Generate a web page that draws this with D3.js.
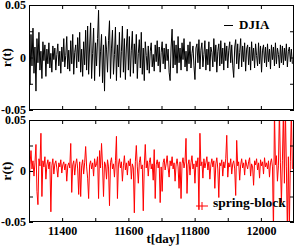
<!DOCTYPE html>
<html>
<head>
<meta charset="utf-8">
<script src="https://cdn.jsdelivr.net/npm/d3@7/dist/d3.min.js"></script>
<style>
  body { margin: 0; background: #fff; }
  svg text { font-family: "Liberation Serif", "Times New Roman", serif; font-weight: bold; }
</style>
</head>
<body>
<script>
// sampling of the two return series (one value every 3 days)
var startDay = 11300;
var dayStep = 3;

// r(t) of the DJIA, in units of 0.001
var djiaValues = [
  5, -26, 22, -8, 28, -15, 10, -32, 18, -5, 24, -12, 6, -20, 15, -3, 12, -18, 8, -6,
  14, -10, 4, -14, 11, -2, 9, -12, 3, 13, -8, 6, -15, 10, -4, 18, -9, 2, 20, -11,
  7, -13, 16, -6, 22, -16, 5, 12, -10, 19, -4, 24, -14, 8, -18, 15, -7, 26, -12, 30,
  -16, 10, 33, -20, 4, 28, -22, 14, -8, 18, 45, -18, 6, 22, -24, 12, -32, 20, 8, -14,
  16, 35, -20, 9, 26, -16, 3, 29, -22, 12, -9, 24, -19, 6, 30, -14, 18, -21, 10, 27,
  -12, 20, -18, 7, 25, -15, 13, -6, 22, -20, 4, 17, -10, 24, -16, 9, -22, 15, 2, -12,
  11, -15, 6, 14, -9, 3, -13, 12, -4, 16, -8, 10, -14, 5, 15, -6, 9, -11, 13, -3,
  8, -14, -22, 10, 27, -10, 16, -7, 12, -15, 20, -5, 9, -12, 14, -2, 18, -9, 6, -13,
  12, -6, 15, -10, 4, 11, -8, -21, 9, 13, -5, 17, -11, 7, 14, -9, 3, 16, -12, 8,
  -7, 15, -13, 10, 5, -9, 18, -4, 12, -14, 6, 13, -8, 16, -6, 9, -12, 14, -3, 11,
  -10, 7, 15, -5, 12, -8, -19, 10, 17, -6, 13, -11, 5, 18, -9, 11, -4, 14, -13, 8,
  12, -7, 10, -12, 15, -3, 9, -10, 13, 2, -8, 14, -6, 11, -14, 7, 12, -5, 10, -9,
  13, -4, 8, -11, 12, -2, 10, -8, 14, -6, 9, 3, -10, 12, -5, 11, -7, 9, -3, 13, -9, 6, 10, -4, 8, -6
];

// r(t) of the spring-block model, in units of 0.001
var springValues = [
  -32, 6, 20, 2, 10, -5, 8, 26, -20, -33, 12, 5, 37, -25, 10, 4, 14, -8, 6, 11,
  2, 9, -40, 5, 12, -3, 7, 10, 3, -6, 8, 4, 11, -2, 6, 9, 1, 7, -10, 5,
  8, 3, 27, -21, 6, 10, -4, 7, 12, 2, -23, 9, -25, 5, 11, -3, 8, 24, 4, -7,
  -27, 6, 10, 2, 8, -5, 12, 4, 7, 14, -27, 20, 3, 27, 5, -25, 9, 6, -8, 11,
  4, -34, 8, 13, 2, 7, -6, 10, 34, -27, 6, 12, 3, 9, -10, 5, 15, 1, 8, -4,
  10, 5, 12, -8, 7, 3, -41, 9, 25, 4, -12, 8, 14, 2, 6, -39, 5, 26, 3, 10,
  -5, 8, 13, 2, 7, -9, 21, -27, 6, 11, 3, 9, -31, 4, -20, 8, 12, 1, 7, 15,
  3, -6, 10, 5, 14, 2, 8, -10, 6, 12, 4, -17, 9, -27, 7, 13, 3, 9, 32, -22,
  6, 11, -4, 8, 15, 2, 7, -12, 10, 4, 13, -38, 37, 5, 9, -7, 12, 3, 8, 14,
  1, 9, -8, 6, 12, 4, 10, -17, 7, 13, 2, -26, 8, 5, 11, -5, 9, 3, 12, 35,
  -6, 8, 4, 12, -3, 7, 10, 2, -24, 30, 5, 9, -9, 6, 12, 3, 8, -4, 11, 6,
  2, 9, 13, -5, 7, 4, -14, 10, 6, 12, 1, 8, -7, 11, 5, 9, -3, 13, 4, 8,
  2, 10, -6, 8, 12, 4, -60, 60, 6, 15, -10, 5, 60, 8, -31, 10, 60, -12, 60, 4, -60, 14, -55, 9, 60, 2
];

// axis ticks
var xTicks = [11400, 11500, 11600, 11700, 11800, 11900, 12000];
var xTickLabels = ["11400", "", "11600", "", "11800", "", "12000"];
var yTicks = [-0.05, -0.025, 0, 0.025, 0.05];
var yTickLabels = ["-0.05", "", "0", "", "0.05"];

window.onload = function() {

  var width = 296, height = 248;
  var left = 29, right = 294;

  var svg = d3.select("body")
      .append("svg")
      .attr("width", width)
      .attr("height", height);

  var xScale = d3.scaleLinear()
      .domain([11300, 12100])
      .range([left, right]);

  // draw one panel: frame, inward ticks on all sides, clipped line
  function drawPanel(id, values, top, bottom, color, showXLabels) {
    var yScale = d3.scaleLinear()
        .domain([-0.05, 0.05])
        .range([bottom, top]);

    var points = values.map(function(v, i) {
      return {day: startDay + i * dayStep, r: v / 1000};
    });

    var g = svg.append("g");

    g.append("clipPath")
        .attr("id", "clip-" + id)
      .append("rect")
        .attr("x", left)
        .attr("y", top)
        .attr("width", right - left)
        .attr("height", bottom - top);

    var line = d3.line()
        .x(function(d) { return xScale(d.day); })
        .y(function(d) { return yScale(d.r); });

    g.append("path")
        .datum(points)
        .attr("clip-path", "url(#clip-" + id + ")")
        .attr("fill", "none")
        .attr("stroke", color)
        .attr("stroke-width", 1)
        .attr("d", line);

    var xBottom = d3.axisBottom(xScale)
        .tickValues(xTicks)
        .tickSizeInner(-4)
        .tickSizeOuter(0)
        .tickPadding(4)
        .tickFormat(function(d, i) { return showXLabels ? xTickLabels[i] : ""; });
    var xTop = d3.axisTop(xScale)
        .tickValues(xTicks)
        .tickSizeInner(-4)
        .tickSizeOuter(0)
        .tickFormat("");
    var yLeft = d3.axisLeft(yScale)
        .tickValues(yTicks)
        .tickSizeInner(-4)
        .tickSizeOuter(0)
        .tickPadding(3)
        .tickFormat(function(d, i) { return yTickLabels[i]; });
    var yRight = d3.axisRight(yScale)
        .tickValues(yTicks)
        .tickSizeInner(-4)
        .tickSizeOuter(0)
        .tickFormat("");

    g.append("g").attr("transform", "translate(0," + bottom + ")").call(xBottom);
    g.append("g").attr("transform", "translate(0," + top + ")").call(xTop);
    g.append("g").attr("transform", "translate(" + left + ",0)").call(yLeft);
    g.append("g").attr("transform", "translate(" + right + ",0)").call(yRight);

    g.selectAll(".domain").remove();
    g.selectAll(".tick line").attr("stroke", "#000");
    g.selectAll(".tick text")
        .attr("fill", "#000")
        .style("font-size", "12px");

    g.append("rect")
        .attr("x", left + 0.5)
        .attr("y", top + 0.5)
        .attr("width", right - left - 1)
        .attr("height", bottom - top - 1)
        .attr("fill", "none")
        .attr("stroke", "#000");

    // y label
    g.append("text")
        .attr("transform", "translate(11," + ((top + bottom) / 2) + ") rotate(-90)")
        .style("text-anchor", "middle")
        .style("font-size", "13px")
        .text("r(t)");

    return g;
  }

  var top = drawPanel("djia", djiaValues, 5, 110, "#000000", false);
  var bot = drawPanel("spring", springValues, 120, 222, "#ff0000", true);

  // legends
  top.append("line")
      .attr("x1", 224).attr("x2", 233)
      .attr("y1", 25.5).attr("y2", 25.5)
      .attr("stroke", "#000");
  top.append("text")
      .attr("x", 239)
      .attr("y", 29)
      .style("font-size", "13px")
      .text("DJIA");

  bot.append("line")
      .attr("x1", 196).attr("x2", 208)
      .attr("y1", 206).attr("y2", 206)
      .attr("stroke", "#ff0000");
  bot.append("line")
      .attr("x1", 202).attr("x2", 202)
      .attr("y1", 202).attr("y2", 210)
      .attr("stroke", "#ff0000");
  bot.append("text")
      .attr("x", 213)
      .attr("y", 207)
      .style("font-size", "13.5px")
      .text("spring-block");

  // x label
  svg.append("text")
      .attr("x", 163)
      .attr("y", 243)
      .style("text-anchor", "middle")
      .style("font-size", "13px")
      .text("t[day]");
};
</script>
</body>
</html>
